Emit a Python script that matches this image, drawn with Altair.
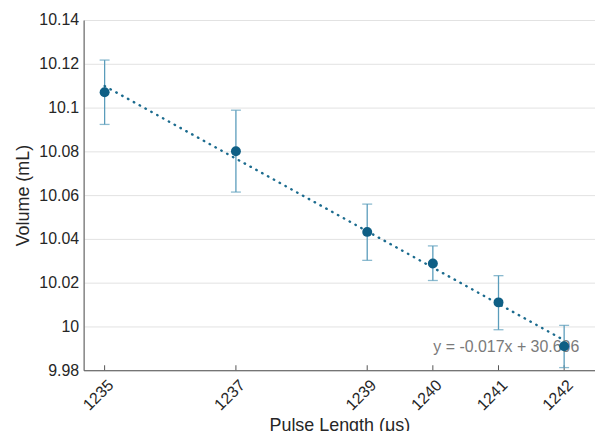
import altair as alt
import pandas as pd

pulse = [1235, 1237, 1239, 1240, 1241, 1242]
volume = [10.107, 10.080, 10.0432, 10.0288, 10.0110, 9.991]
err_hi = [10.1217, 10.0988, 10.0559, 10.0368, 10.0232, 10.0005]
err_lo = [10.0923, 10.0614, 10.0302, 10.0210, 9.9985, 9.9812]
x_ticks = [1235, 1237, 1239, 1240, 1241, 1242]
y_ticks = [9.98, 10.0, 10.02, 10.04, 10.06, 10.08, 10.1, 10.12, 10.14]
fit_label = "y = -0.017x + 30.606"

df = pd.DataFrame({"x": pulse, "y": volume, "hi": err_hi, "lo": err_lo})

FONT = "Liberation Sans"
xs = alt.Scale(domain=[1234.68, 1242.47], nice=False, zero=False)
ys = alt.Scale(domain=[9.98, 10.14], nice=False, zero=False)

xaxis = alt.Axis(values=x_ticks, labelAngle=-45, labelAlign="right", labelBaseline="middle",
                 title="Pulse Length (μs)", grid=False, ticks=False, labelPadding=12,
                 labelOffset=6,
                 titleFont=FONT, labelFont=FONT, titleFontSize=18, labelFontSize=16,
                 titleFontWeight="normal", labelColor="#262626", titleColor="#262626",
                 domainColor="#555555", format="d", titlePadding=4)
yaxis = alt.Axis(values=y_ticks, title="Volume (mL)", grid=True, gridColor="#e2e2e2",
                 ticks=False, labelFont=FONT, titleFont=FONT, labelFontSize=16,
                 titleFontSize=18, titleFontWeight="normal", labelColor="#262626",
                 titleColor="#262626", domainColor="#555555", labelPadding=5,
                 labelExpr="format(datum.value, '.4~f')", titlePadding=6)

base = alt.Chart(df)

xticks_layer = alt.Chart(pd.DataFrame({"x": x_ticks})).mark_rule(color="#555555").encode(
    x=alt.X("x:Q", scale=xs, axis=xaxis),
    y=alt.value(352), y2=alt.value(347))

ERR = "#5a9cbb"
rules = base.mark_rule(color=ERR, strokeWidth=1.3).encode(
    x=alt.X("x:Q", scale=xs), y=alt.Y("lo:Q", scale=ys, axis=yaxis), y2="hi:Q")
cap_hi = base.mark_tick(color=ERR, thickness=1.3, size=10, orient="horizontal").encode(
    x=alt.X("x:Q", scale=xs), y=alt.Y("hi:Q", scale=ys))
cap_lo = base.mark_tick(color=ERR, thickness=1.3, size=10, orient="horizontal").encode(
    x=alt.X("x:Q", scale=xs), y=alt.Y("lo:Q", scale=ys))

fit = base.transform_regression("x", "y").mark_line(
    color="#1b6b8e", strokeDash=[0.5, 6.2], strokeWidth=2.4, strokeCap="round").encode(
    x=alt.X("x:Q", scale=xs), y=alt.Y("y:Q", scale=ys))

pts = base.mark_circle(color="#0f5f85", opacity=1, size=100).encode(
    x=alt.X("x:Q", scale=xs), y=alt.Y("y:Q", scale=ys))

label = alt.Chart(pd.DataFrame({"t": [fit_label], "x": [1242.23], "y": [9.9905]})).mark_text(
    align="right", baseline="middle", font=FONT, fontSize=16, color="#7a7a7a").encode(
    x=alt.X("x:Q", scale=xs), y=alt.Y("y:Q", scale=ys), text="t:N")

chart = alt.layer(xticks_layer, rules, cap_hi, cap_lo, fit, label, pts).properties(
    width=514, height=352,
    autosize=alt.AutoSizeParams(type="none"),
    padding={"left": 76, "top": 11, "right": 0, "bottom": 60},
).configure_view(stroke=None).configure(background="white")

chart.save("out.html", embed_options={"renderer": "svg", "actions": False})
